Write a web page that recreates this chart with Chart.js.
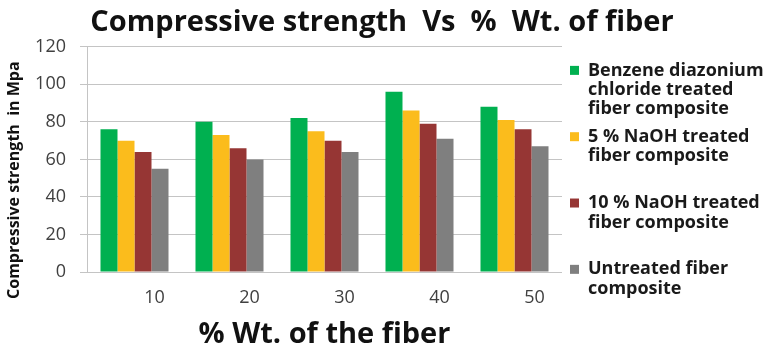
<!DOCTYPE html>
<html>
<head>
<meta charset="utf-8">
<script src="https://cdn.jsdelivr.net/npm/chart.js@4.4.1/dist/chart.umd.min.js"></script>
<style>
    html, body { margin: 0; padding: 0; background: #fff; }
    #wrap { width: 764px; height: 347px; }
</style>
</head>
<body>
<div id="wrap"><canvas id="strengthChart" width="764" height="347"></canvas></div>
<script>
// % Wt. of fiber in the composite
const fiberWt = ['10', '20', '30', '40', '50'];

// Compressive strength (MPa) per treatment
const benzeneDiazonium = [76, 80, 82, 96, 88];
const naoh5 = [70, 73, 75, 86, 81];
const naoh10 = [64, 66, 70, 79, 76];
const untreated = [55, 60, 64, 71, 67];

const yTicks = [0, 20, 40, 60, 80, 100, 120];

// legend text, one entry per line
const seriesNames = [
    ['Benzene diazonium', 'chloride treated', 'fiber composite'],
    ['5 % NaOH treated', 'fiber composite', ''],
    ['10 % NaOH treated', 'fiber composite', ''],
    ['Untreated fiber', 'composite']
];

const seriesColors = ['#00b050', '#fbbc1c', '#963634', '#7f7f7f'];
const seriesValues = [benzeneDiazonium, naoh5, naoh10, untreated];

const FONT = '"Open Sans", Lato, sans-serif';

document.addEventListener("DOMContentLoaded", () => {
    const ctx = document.getElementById('strengthChart');

    new Chart(ctx, {
        type: 'bar',
        data: {
            labels: fiberWt,
            datasets: seriesValues.map((vals, i) => ({
                label: seriesNames[i].join(' ').trim(),
                data: vals,
                backgroundColor: seriesColors[i],
                borderWidth: 0,
                categoryPercentage: 0.716,
                barPercentage: 1.0
            }))
        },
        options: {
            responsive: false,
            animation: false,
            layout: {
                padding: { left: 0, right: 0, top: 0, bottom: 0 }
            },
            scales: {
                x: {
                    // fixed band for tick labels + axis title
                    afterFit: axis => { axis.height = 75; },
                    grid: { display: false, drawTicks: false },
                    border: { display: false },
                    ticks: {
                        color: '#404040',
                        font: { family: FONT, size: 18 },
                        padding: 15,
                        labelOffset: 20
                    },
                    title: {
                        display: true,
                        text: '% Wt. of the fiber',
                        color: '#111',
                        font: { family: FONT, size: 29, weight: 'bold' },
                        // bottom padding is measured from the canvas edge
                        padding: { top: 0, bottom: -5 }
                    }
                },
                y: {
                    min: 0,
                    max: 120,
                    afterFit: axis => { axis.width = 87; },
                    afterBuildTicks: axis => {
                        axis.ticks = yTicks.map(v => ({ value: v }));
                    },
                    grid: {
                        color: '#c4c4c4',
                        lineWidth: 1,
                        tickLength: 7
                    },
                    border: { display: true, color: '#c4c4c4' },
                    ticks: {
                        color: '#404040',
                        font: { family: FONT, size: 18 },
                        padding: 14
                    },
                    title: {
                        display: true,
                        // trailing spaces nudge the rotated text toward the bottom
                        text: 'Compressive strength  in Mpa          ',
                        color: '#111',
                        font: { family: FONT, size: 16, weight: 'bold' },
                        padding: { top: 5, bottom: 0 }
                    }
                }
            },
            plugins: {
                title: {
                    display: true,
                    text: 'Compressive strength  Vs  %  Wt. of fiber',
                    color: '#111',
                    font: { family: FONT, size: 29, weight: 'bold' },
                    padding: { top: 5, bottom: 7 }
                },
                legend: {
                    position: 'right',
                    align: 'center',
                    maxWidth: 202,
                    title: {
                        display: true,
                        text: '',
                        font: { size: 8 },
                        padding: 2
                    },
                    labels: {
                        boxWidth: 9,
                        boxHeight: 9,
                        padding: 8,
                        color: '#1a1a1a',
                        font: { family: FONT, size: 18, weight: 'bold', lineHeight: 1.08 },
                        generateLabels: chart => {
                            const items = Chart.defaults.plugins.legend.labels.generateLabels(chart);
                            items.forEach((item, i) => { item.text = seriesNames[i]; });
                            return items;
                        }
                    }
                },
                tooltip: { enabled: false }
            }
        }
    });
});
</script>
</body>
</html>
